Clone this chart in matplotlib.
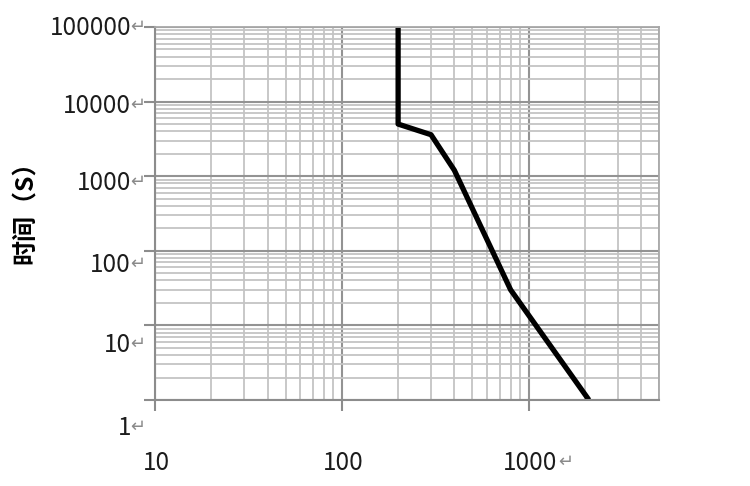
import matplotlib
matplotlib.use("Agg")
import matplotlib.pyplot as plt
from matplotlib.ticker import LogLocator, NullFormatter

plt.rcParams['font.family'] = ['Noto Sans CJK SC', 'DejaVu Sans']

# 曲线数据（电流 - 时间）
current = [200, 200, 300, 400, 800, 2100]
time_s = [100000, 5000, 3600, 1200, 30, 1]

x_ticks = [10, 100, 1000]
x_labels = ['10', '100', '1000']
y_ticks = [100000, 10000, 1000, 100, 10, 1]
y_labels = ['100000', '10000', '1000', '100', '10', '1']
# 纵轴标签在原图中逐渐向下偏移（像素）
y_label_drift = [1, 4, 7, 14, 20, 28]

fig = plt.figure(figsize=(7.5, 4.86), dpi=100)
ax = fig.add_axes([0.2067, 0.177, 0.6724, 0.7674])

ax.set_xscale('log')
ax.set_yscale('log')
ax.set_xlim(10, 5000)
ax.set_ylim(1, 100000)

ax.xaxis.set_major_locator(LogLocator(base=10, numticks=10))
ax.yaxis.set_major_locator(LogLocator(base=10, numticks=10))
ax.xaxis.set_minor_locator(LogLocator(base=10, subs=range(2, 10), numticks=20))
ax.yaxis.set_minor_locator(LogLocator(base=10, subs=range(2, 10), numticks=20))
ax.xaxis.set_major_formatter(NullFormatter())
ax.yaxis.set_major_formatter(NullFormatter())
ax.xaxis.set_minor_formatter(NullFormatter())
ax.yaxis.set_minor_formatter(NullFormatter())

ax.grid(True, which='minor', color='#c4c4c4', linewidth=1.3)
ax.grid(True, which='major', color='#939393', linewidth=1.5)
ax.set_axisbelow(True)

ax.tick_params(which='major', direction='out', length=8, width=1.5, color='#8c8c8c')
ax.tick_params(which='minor', length=0)
for side in ['left', 'bottom']:
    ax.spines[side].set_color('#8c8c8c')
    ax.spines[side].set_linewidth(1.5)
for side in ['top', 'right']:
    ax.spines[side].set_color('#a8a8a8')
    ax.spines[side].set_linewidth(1.3)

ax.plot(current, time_s, color='black', linewidth=3.8, solid_capstyle='butt',
        solid_joinstyle='round')

# 纵轴刻度文字（带段落标记）
for val, txt, d in zip(y_ticks, y_labels, y_label_drift):
    ax.annotate(txt, xy=(10, val), xytext=(-24, -d), textcoords='offset pixels',
                ha='right', va='center', fontsize=17.5, color='#1c1c1c',
                annotation_clip=False)
    ax.annotate('\u21b5', xy=(10, val), xytext=(-25, -d + 1), textcoords='offset pixels',
                ha='left', va='center', fontsize=13, color='#8a8a8a',
                annotation_clip=False)

# 横轴刻度文字
for val, txt in zip(x_ticks, x_labels):
    ax.annotate(txt, xy=(val, 1), xytext=(1, -63), textcoords='offset pixels',
                ha='center', va='center', fontsize=17.5, color='#1c1c1c',
                annotation_clip=False)
ax.annotate('\u21b5', xy=(x_ticks[-1], 1), xytext=(29, -62), textcoords='offset pixels',
            ha='left', va='center', fontsize=13, color='#8a8a8a', annotation_clip=False)

fig.text(0.034, 0.575, '时间（S）', rotation=90, ha='center', va='center',
         fontsize=18, fontweight='bold', color='black')

fig.savefig('out.png', dpi=100, facecolor='white')
